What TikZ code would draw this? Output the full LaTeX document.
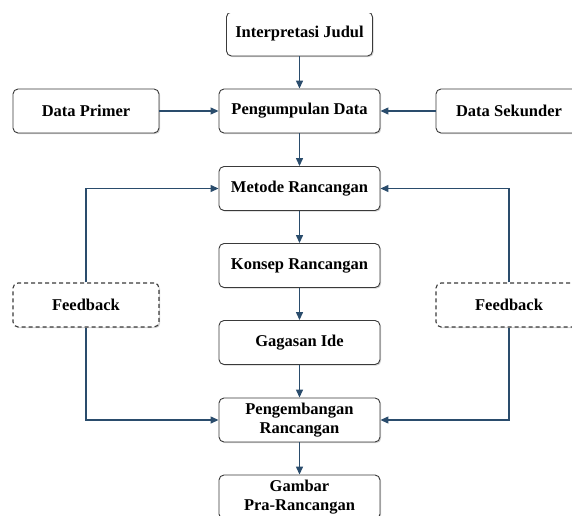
\documentclass[tikz,border=0pt]{standalone}
\usepackage{fontspec}
\setmainfont{Liberation Serif}[BoldFont={Liberation Serif Bold}]
\usepackage{xcolor}
\usepackage{tikz}
\usetikzlibrary{arrows.meta,shadows}

\definecolor{arrowblue}{HTML}{2A4C6C}
\definecolor{boxline}{HTML}{3A3A3A}

\tikzset{
    stagebox/.style={draw=boxline,line width=0.9pt,rounded corners=5pt,fill=white,
        minimum width=161pt,minimum height=44pt,align=center,inner sep=2pt,
        font=\fontsize{16.5}{19.5}\selectfont\bfseries,
        drop shadow={shadow xshift=1.2pt,shadow yshift=-1.2pt,opacity=0.35}},
    sidebox/.style={stagebox,minimum width=146pt},
    feedbox/.style={sidebox,dashed,dash pattern=on 4pt off 3pt,line width=1.1pt},
    flow/.style={arrowblue,line width=1.3pt,-{Triangle[length=8pt,width=7pt]}}
}

\begin{document}
\begin{tikzpicture}[x=1pt,y=1pt]
        \useasboundingbox (0,0) rectangle (572,515);
        \clip (0,0) rectangle (572,501.5);
        
        % Main column
        \node[sidebox] (judul) at (299.5,481) {Interpretasi Judul};
        \foreach \name/\y/\txt in {kumpul/404/{Pengumpulan Data},metode/326.5/{Metode Rancangan},
            konsep/249.5/{Konsep Rancangan},gagasan/172.5/{Gagasan Ide},
            kembang/95/{Pengembangan\\Rancangan},gambar/18/{Gambar\\Pra-Rancangan}} {
            \node[stagebox] (\name) at (299.5,\y) {\txt};
        }
        
        % Data sources
        \node[sidebox] (primer) at (86,404) {Data Primer};
        \node[sidebox] (sekunder) at (509,404) {Data Sekunder};
        
        % Feedback boxes
        \node[feedbox] (fbkiri) at (86,210) {Feedback};
        \node[feedbox] (fbkanan) at (509,210) {Feedback};
        
        % Flow arrows
        \foreach \a/\b in {judul/kumpul,kumpul/metode,metode/konsep,konsep/gagasan,gagasan/kembang,kembang/gambar} {
            \draw[flow] (\a) -- (\b);
        }
        \draw[flow] (primer) -- (kumpul);
        \draw[flow] (sekunder) -- (kumpul);
        
        % Feedback loops
        \draw[flow] (fbkiri.north) |- (metode.west);
        \draw[flow] (fbkiri.south) |- (kembang.west);
        \draw[flow] (fbkanan.north) |- (metode.east);
        \draw[flow] (fbkanan.south) |- (kembang.east);
    \end{tikzpicture}
\end{document}
